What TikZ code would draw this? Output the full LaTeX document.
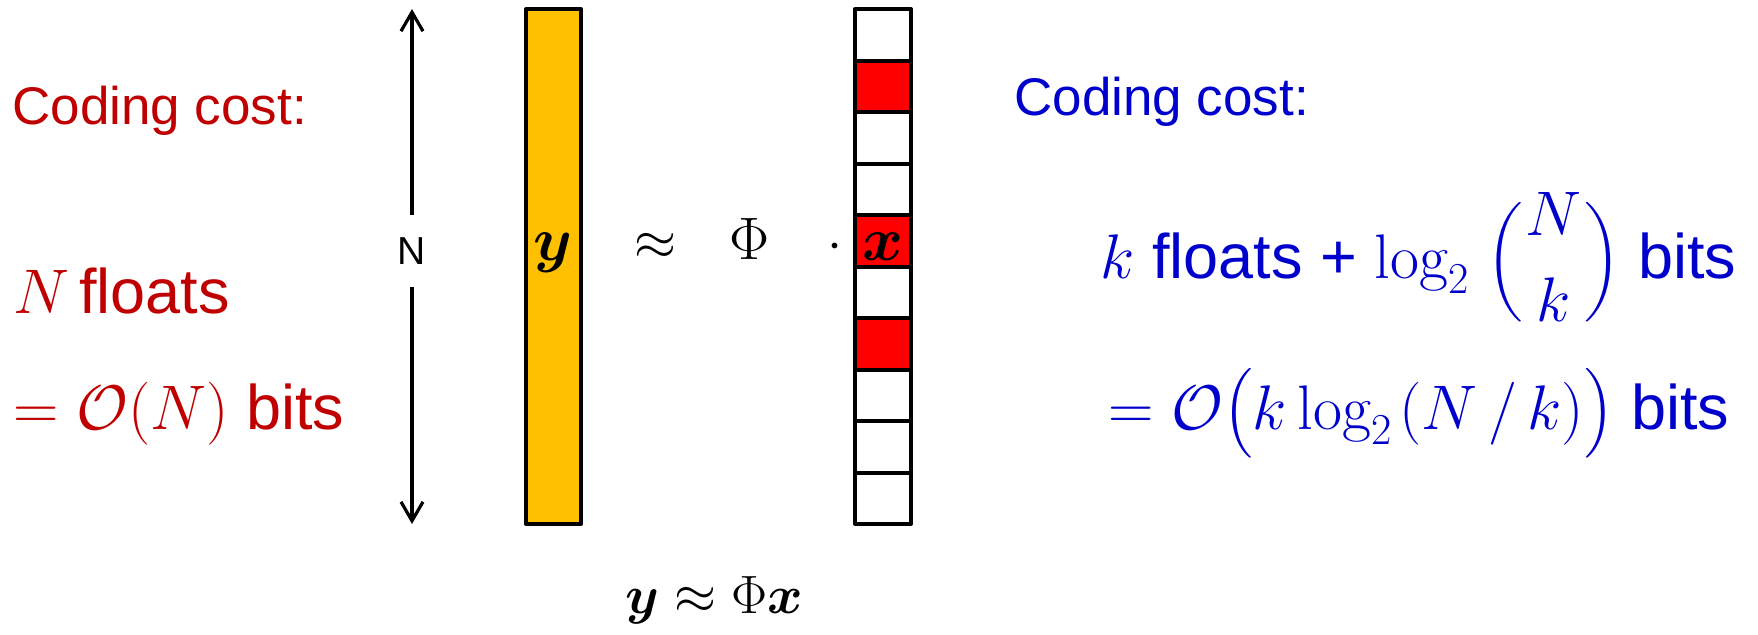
\RequirePackage{fix-cm}
\documentclass[tikz,border=0pt]{standalone}
\usepackage{amsmath}
\usepackage{bm}
\usepackage{fontspec}
\newfontfamily\arial{Liberation Sans}
\usetikzlibrary{arrows.meta}
\definecolor{ybar}{HTML}{FFC000}
\definecolor{cellred}{HTML}{FF0000}
\definecolor{tred}{HTML}{C00000}
\definecolor{tblue}{HTML}{0000CC}
\tikzset{
  ybox/.style={draw=black, line width=2pt, line join=round, fill=ybar,
    minimum width=27.5pt, minimum height=257.5pt, inner sep=0pt},
  cellbox/.style={draw=black, line width=2pt, line join=round, fill=white,
    minimum width=28pt, minimum height=25.75pt, inner sep=0pt},
  redbox/.style={cellbox, fill=cellred},
  dimarrow/.style={line width=1.6pt, -{Straight Barb[length=9.5pt,width=11pt]}},
  cctext/.style={anchor=base west, inner sep=0pt, font=\arial\fontsize{26.5}{30}\selectfont},
  mtext/.style={anchor=base west, inner sep=0pt, font=\arial\fontsize{31.5}{38}\selectfont},
  midsym/.style={anchor=base, inner sep=0pt, font=\fontsize{27}{30}\selectfont},
  phisym/.style={anchor=base, inner sep=0pt, font=\fontsize{30}{34}\selectfont},
  boldsym/.style={anchor=base, inner sep=0pt, font=\fontsize{31}{36}\selectfont},
}
\begin{document}
\begin{tikzpicture}[x=0.5pt,y=-0.5pt]
\useasboundingbox (0,0) rectangle (1758,634);
% vectors
\node[ybox] (ybar) at (553.5,266.5) {};
\foreach \i in {1,...,10}{
  \pgfmathsetmacro{\cy}{9+51.5*(\i-0.5)}
  \ifnum\i=2 \node[redbox] (c\i) at (883,\cy) {};
  \else\ifnum\i=5 \node[redbox] (c\i) at (883,\cy) {};
  \else\ifnum\i=7 \node[redbox] (c\i) at (883,\cy) {};
  \else \node[cellbox] (c\i) at (883,\cy) {};
  \fi\fi\fi
}
% dimension arrow
\coordinate (atop) at (412,9);
\coordinate (abot) at (412,524);
\node[inner sep=0pt, minimum height=36pt, font=\arial\fontsize{19.5}{22}\selectfont] (nlab) at (412,251) {N};
\draw[dimarrow] (nlab.north) -- (atop);
\draw[dimarrow] (nlab.south) -- (abot);
% middle equation
\node[boldsym] (ylab) at (553,260) {$\bm{y}$};
\node[midsym] (approx) at (655,259) {$\approx$};
\node[phisym] (phi) at (750,259) {$\Phi$};
\node[midsym] (cdot) at (835,259) {$\cdot$};
\node[boldsym] (xlab) at (883,260) {$\bm{x}$};
% bottom equation
\node[anchor=base, inner sep=0pt, font=\fontsize{27}{31}\selectfont] (eq) at (714,613) {$\bm{y}\approx\Phi\bm{x}$};
% red text
\node[cctext, text=tred] (rcc) at (12,124) {Coding cost:};
\node[mtext, text=tred] (r2) at (13,313) {$N$\hspace{-0.12em} floats};
\node[mtext, text=tred] (r3) at (13,429) {$=\mathcal{O}(N)$ bits};
% blue text
\node[cctext, text=tblue] (bcc) at (1014,115) {Coding cost:};
\node[mtext, text=tblue] (b2) at (1100,278) {$k$ floats + $\log_2\mkern5mu\Bigl(\genfrac{}{}{0pt}{0}{N}{k}\Bigr)$ bits};
\node[mtext, text=tblue] (b3) at (1108,429) {$=\mathcal{O}\bigl(k\log_2\mkern2mu(N\mkern3mu/\mkern3mu k)\bigr)$ bits};
\end{tikzpicture}
\end{document}
